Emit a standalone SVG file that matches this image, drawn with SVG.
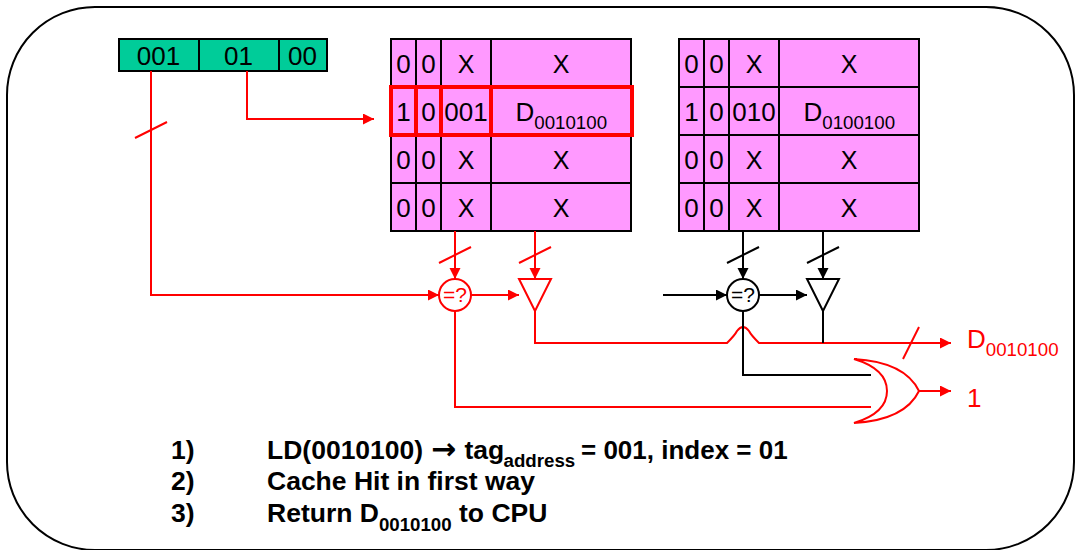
<svg xmlns="http://www.w3.org/2000/svg" width="1081" height="550" viewBox="0 0 1081 550">
<style>
text{font-family:"Liberation Sans",Arial,sans-serif;font-size:26px;fill:#000}
.m{text-anchor:middle}
.x{font-size:25px}
.s{font-size:18.700px}
.q{font-size:21px}
.r{fill:#f00}
.b{font-weight:bold;font-size:26.500px}
.b .s{font-size:18.700px}
.cell{fill:#f9f;stroke:#000;stroke-width:2}
.bar{fill:#0c9;stroke:#000;stroke-width:2}
.hl{fill:none;stroke:#f00;stroke-width:4}
.lr{fill:none;stroke:#f00;stroke-width:2}
.lk{fill:none;stroke:#000;stroke-width:2}
.ar{marker-end:url(#ra)}
.ak{marker-end:url(#ka)}
</style>
<defs>
<marker id="ra" markerUnits="userSpaceOnUse" markerWidth="12" markerHeight="12" refX="11" refY="5.500" orient="auto"><path d="M0 0L11 5.500L0 11Z" fill="#f00"/></marker>
<marker id="ka" markerUnits="userSpaceOnUse" markerWidth="12" markerHeight="12" refX="11" refY="5.500" orient="auto"><path d="M0 0L11 5.500L0 11Z" fill="#000"/></marker>
</defs>
<rect id="frame" x="7" y="7" width="1067" height="543" rx="88" ry="88" fill="#fff" stroke="#000" stroke-width="2"/>
<g id="address">
<rect class="bar" x="119" y="39" width="80" height="32"/><rect class="bar" x="199" y="39" width="80" height="32"/><rect class="bar" x="279" y="39" width="48" height="32"/>
<text class="m" x="158.500" y="65">001</text><text class="m" x="238.500" y="65">01</text><text class="m" x="302.500" y="65">00</text>
</g>
<g id="way1">
<path class="cell" d="M391 39H631V231H391ZM391 87H631M391 135H631M391 183H631M416 39V231M441 39V231M491 39V231"/>
<text class="m" x="403.500" y="72.500">0</text><text class="m" x="428.500" y="72.500">0</text><text class="m x" x="466" y="72.500">X</text><text class="m x" x="561" y="72.500">X</text>
<text class="m" x="403.500" y="120.500">1</text><text class="m" x="428.500" y="120.500">0</text><text class="m" x="466" y="120.500">001</text><text x="515.500" y="120.500">D<tspan class="s" dy="8">0010100</tspan></text>
<text class="m" x="403.500" y="168.500">0</text><text class="m" x="428.500" y="168.500">0</text><text class="m x" x="466" y="168.500">X</text><text class="m x" x="561" y="168.500">X</text>
<text class="m" x="403.500" y="216.500">0</text><text class="m" x="428.500" y="216.500">0</text><text class="m x" x="466" y="216.500">X</text><text class="m x" x="561" y="216.500">X</text>
<path class="hl" d="M391 87H632V135H391ZM416 87V135M441 87V135M491 87V135"/>
</g>
<g id="way2">
<path class="cell" d="M679 39H919V231H679ZM679 87H919M679 135H919M679 183H919M704 39V231M729 39V231M779 39V231"/>
<text class="m" x="691.500" y="72.500">0</text><text class="m" x="716.500" y="72.500">0</text><text class="m x" x="754" y="72.500">X</text><text class="m x" x="849" y="72.500">X</text>
<text class="m" x="691.500" y="120.500">1</text><text class="m" x="716.500" y="120.500">0</text><text class="m" x="754" y="120.500">010</text><text x="803.500" y="120.500">D<tspan class="s" dy="8">0100100</tspan></text>
<text class="m" x="691.500" y="168.500">0</text><text class="m" x="716.500" y="168.500">0</text><text class="m x" x="754" y="168.500">X</text><text class="m x" x="849" y="168.500">X</text>
<text class="m" x="691.500" y="216.500">0</text><text class="m" x="716.500" y="216.500">0</text><text class="m x" x="754" y="216.500">X</text><text class="m x" x="849" y="216.500">X</text>
</g>
<g id="connectors">
<path class="lr ar" d="M247 71V119H374"/>
<path class="lr ar" d="M151 71V295H439"/>
<path class="lr" d="M135 138L167 122"/>
<path class="lr ar" d="M455 231V279"/><path class="lr" d="M439 263L471 247"/>
<path class="lr ar" d="M535 231V279"/><path class="lr" d="M519 263L551 247"/>
<path class="lr ar" d="M471 295H519"/>
<path class="lr" d="M455 311V407H871"/>
<path class="lr ar" d="M535 311V343H727Q735 335 737 331Q740 327 743 327Q746 327 749 331Q751 335 759 343H951"/>
<path class="lk ak" d="M743 231V279"/><path class="lk" d="M727 263L759 247"/>
<path class="lk ak" d="M823 231V279"/><path class="lk" d="M807 263L839 247"/>
<path class="lk ak" d="M663 295H727"/><path class="lk ak" d="M759 295H807"/>
<path class="lk" d="M823 311V343"/>
<path class="lk" d="M743 311V375H871"/>
<path class="lr" d="M903 359L919 327"/>
<path class="lr ar" d="M919 391H951"/>
</g>
<g id="cmp1"><circle cx="455" cy="295" r="16" fill="#fff" stroke="#f00" stroke-width="2"/><text class="m r q" x="455" y="302">=?</text></g>
<g id="buf1"><path d="M519 279H551L535 311Z" fill="#fff" stroke="#f00" stroke-width="2"/></g>
<g id="cmp2"><circle cx="743" cy="295" r="16" fill="#fff" stroke="#000" stroke-width="2"/><text class="m q" x="743" y="302">=?</text></g>
<g id="buf2"><path d="M807 279H839L823 311Z" fill="#fff" stroke="#000" stroke-width="2"/></g>
<g id="or"><path d="M854 359Q887 369 887 391Q887 413 854 423Q905 420 919 391Q905 362 854 359Z" fill="#fff" stroke="#f00" stroke-width="2"/></g>
<g id="labels">
<text class="r" x="967" y="347.500">D<tspan class="s" dy="8">0010100</tspan></text>
<text class="r" x="967" y="407">1</text>
<text class="b" x="171" y="459">1)</text>
<text class="b" x="267" y="459">LD(0010100) <tspan x="431" font-size="30" font-family="'DejaVu Sans',sans-serif">→</tspan><tspan x="464.500">tag</tspan></text>
<text class="b" x="503.500" y="467"><tspan class="s">address</tspan><tspan x="581" y="459" font-size="26">= 001, index = 01</tspan></text>
<text class="b" x="171" y="490">2)</text>
<text class="b" x="267" y="490">Cache Hit in first way</text>
<text class="b" x="171" y="522">3)</text>
<text class="b" x="267" y="522">Return D<tspan class="s" dy="9">0010100</tspan><tspan dy="-9"> to CPU</tspan></text>
</g>
</svg>
